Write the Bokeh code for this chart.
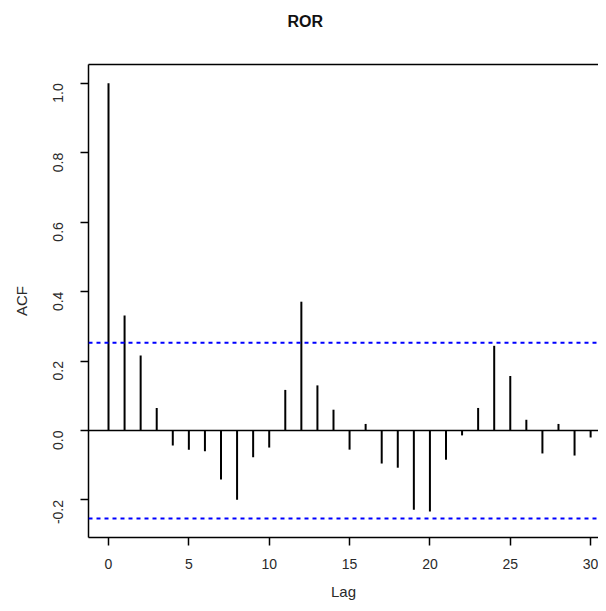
from bokeh.plotting import figure
from bokeh.models import FixedTicker, PrintfTickFormatter, LinearAxis, Span, Range1d
from bokeh.embed import file_html
from bokeh.resources import INLINE
import math

lags = list(range(31))
acf = [1.0, 0.331, 0.216, 0.065, -0.043, -0.055, -0.060, -0.141, -0.199, -0.077,
       -0.049, 0.117, 0.371, 0.130, 0.060, -0.055, 0.019, -0.095, -0.107, -0.228,
       -0.233, -0.084, -0.014, 0.065, 0.244, 0.157, 0.031, -0.066, 0.019, -0.072,
       -0.020]
ci = 0.253
x_ticks = [0, 5, 10, 15, 20, 25, 30]
y_ticks = [-0.2, 0.0, 0.2, 0.4, 0.6, 0.8, 1.0]
title_text = "ROR"
x_label = "Lag"
y_label = "ACF"

FONT = "Liberation Sans"
TXT = "#2a2a2a"

p = figure(width=598, height=603, output_backend="svg", toolbar_location=None,
           x_range=Range1d(-1.245, 30.49), y_range=Range1d(-0.308, 1.054),
           min_border_left=88, min_border_right=0, min_border_top=64,
           min_border_bottom=66, background_fill_color="white",
           border_fill_color="white", outline_line_color=None)

p.xgrid.visible = False
p.ygrid.visible = False

xax = p.below[0]
yax = p.left[0]

for ax in (xax, yax):
    ax.axis_line_color = "black"
    ax.axis_line_width = 1.5
    ax.major_tick_line_color = "black"
    ax.major_tick_line_width = 1.5
    ax.major_tick_out = 8
    ax.major_tick_in = 0
    ax.minor_tick_line_color = None
    ax.major_label_text_font = FONT
    ax.major_label_text_font_size = "14px"
    ax.major_label_text_color = TXT
    ax.axis_label_text_font = FONT
    ax.axis_label_text_font_size = "15px"
    ax.axis_label_text_font_style = "normal"
    ax.axis_label_text_color = TXT

xax.ticker = FixedTicker(ticks=x_ticks)
xax.major_label_standoff = 13
xax.axis_label = x_label
xax.axis_label_standoff = 11

yax.ticker = FixedTicker(ticks=y_ticks)
yax.formatter = PrintfTickFormatter(format="%.1f")
yax.major_label_orientation = math.pi / 2
yax.major_label_standoff = 22
yax.axis_label = y_label
yax.axis_label_standoff = 16

# top box line (an axis without ticks); its blank label spaces the title upward
top = LinearAxis(ticker=FixedTicker(ticks=[]), axis_line_color="black",
                 axis_line_width=1.5, major_tick_line_color=None,
                 minor_tick_line_color=None, major_label_text_font_size="0px",
                 axis_label=" ", axis_label_text_font_size="16px",
                 axis_label_standoff=10)
p.add_layout(top, "above")

p.title.text = title_text
p.title.text_font = FONT
p.title.text_font_size = "16px"
p.title.text_font_style = "bold"
p.title.text_color = "#111111"
p.title.align = "left"
p.title.offset = 199

# zero line and confidence bounds
p.add_layout(Span(location=0, dimension="width", line_color="black", line_width=1.5))
for b in (ci, -ci):
    p.add_layout(Span(location=b, dimension="width", line_color="blue",
                      line_width=2, line_dash="4 4"))

p.segment(x0=lags, y0=[0] * len(lags), x1=lags, y1=acf,
          line_color="black", line_width=2)

open("out.html", "w").write(file_html(p, INLINE))
